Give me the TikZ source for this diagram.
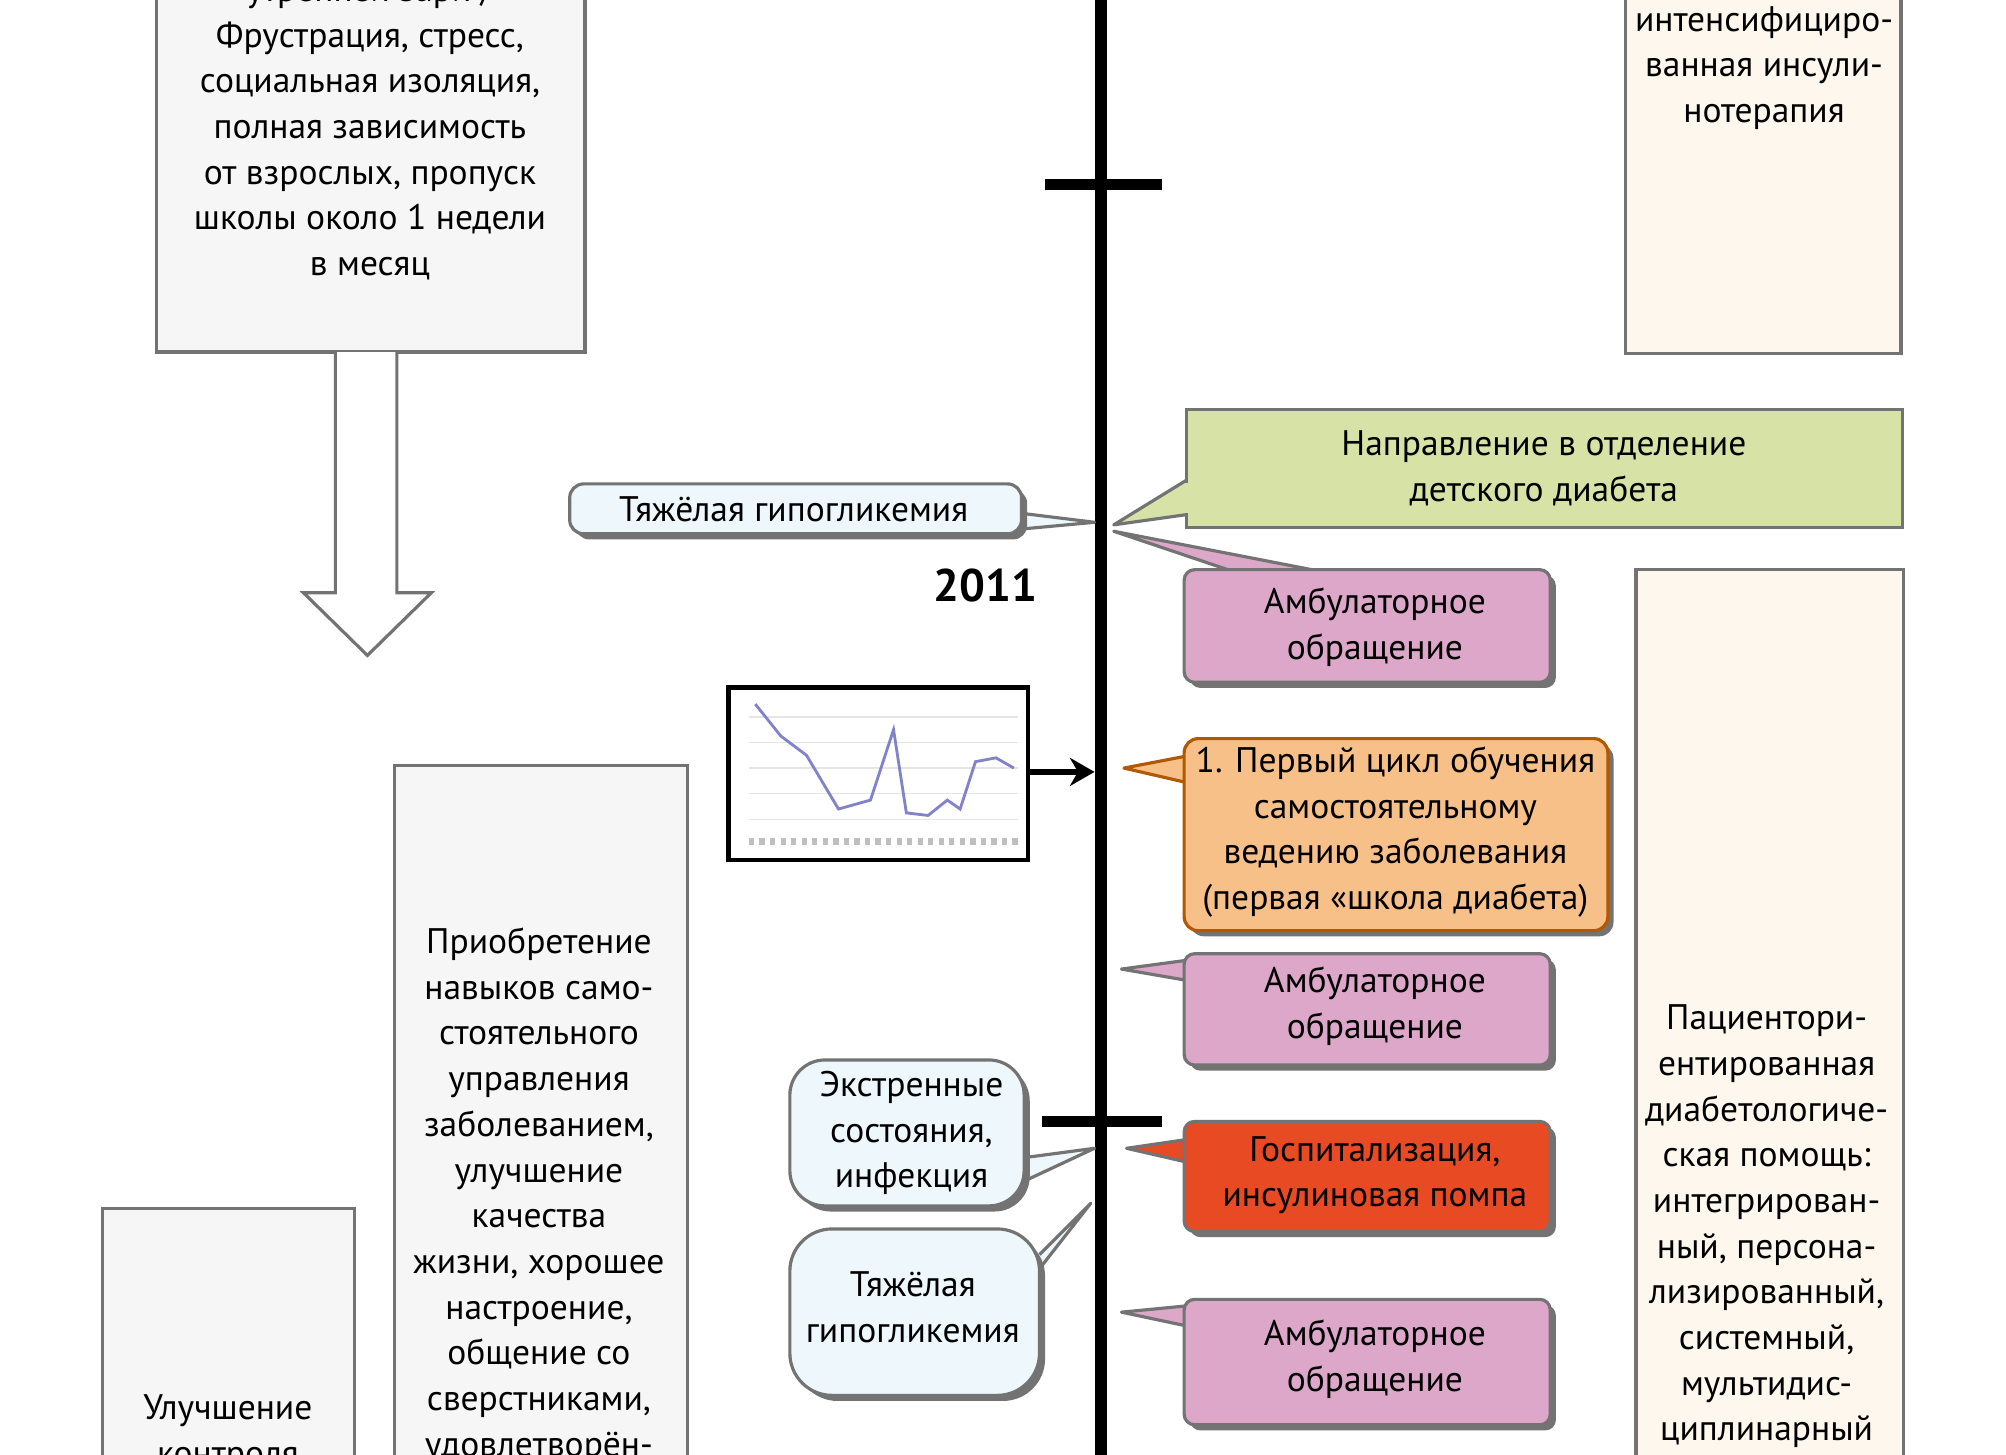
\documentclass[tikz,border=0pt]{standalone}
\usepackage{fontspec}
\setmainfont{PT Sans}
\usetikzlibrary{fit,shadows,arrows.meta}
\definecolor{gbox}{HTML}{F6F6F6}
\definecolor{cream}{HTML}{FDF7EE}
\definecolor{green1}{HTML}{D6E2A6}
\definecolor{lblue}{HTML}{EEF7FB}
\definecolor{pink1}{HTML}{DCA7C8}
\definecolor{orange1}{HTML}{F8C089}
\definecolor{red1}{HTML}{E84A24}
\tikzset{
  bx/.style={draw=black!55, line width=0.9pt, inner sep=0pt},
  sh/.style={drop shadow={shadow xshift=1.6pt,shadow yshift=-1.6pt,fill=black!55,opacity=1}},
  tx/.style={align=center, font=\fontsize{10.1}{13.0}\selectfont, inner sep=0pt},
  ptr/.style={draw=black!55, line width=0.9pt, line join=round},
}
\begin{document}
\begin{tikzpicture}[x=0.012802cm,y=-0.012802cm]
\useasboundingbox (0,0) rectangle (1567,1136);
\clip (0,0) rectangle (1567,1136);
% timeline
\coordinate (t0) at (860,-10);
\coordinate (t1) at (860,1140);
\draw[line width=3.2pt] (t0) -- (t1);
\coordinate (k1a) at (816,144); \coordinate (k1b) at (908,144);
\coordinate (k2a) at (814,876); \coordinate (k2b) at (908,876);
\draw[line width=3.2pt] (k1a) -- (k1b);
\draw[line width=3.2pt] (k2a) -- (k2b);

% top-left box
\node[bx, fill=gbox, fit={(122,-60) (457,275)}] (tl) {};
\node[tx] (tlt) at (289,100) {утренней зари /\\Фрустрация, стресс,\\социальная изоляция,\\полная зависимость\\от взрослых, пропуск\\школы около 1 недели\\в месяц};
% hollow arrow
\draw[bx, fill=white] (262,275) -- (262,463) -- (237,463) -- (287,512) -- (337,463) -- (310,463) -- (310,275);

% top-right box
\node[bx, fill=cream, fit={(1270,-60) (1485,276)}] (tr) {};
\node[tx] (trt) at (1378,53) {интенсифициро-\\ванная инсули-\\нотерапия};

% green
\draw[ptr, fill=green1] (927,375) -- (870,410) -- (927,402);
\node[bx, fill=green1, fit={(927,320) (1486,412)}] (gr) {};
\draw[green1, line width=1.5pt] (927.5,377) -- (927.5,401);
\node[tx] (grt) at (1206,366) {Направление в отделение\\детского диабета};

% light blue hypoglycemia 1
\draw[ptr, fill=lblue] (790,400) -- (855,408) -- (790,414);
\node[bx, fill=lblue, rounded corners=4pt, sh, fit={(445,378) (798,417)}] (h1) {};
\node[tx] (h1t) at (620,398) {Тяжёлая гипогликемия};

\node[font=\bfseries\fontsize{13}{15}\selectfont, inner sep=0pt] (y2011) at (770,457) {2011};

% pink 1
\draw[ptr, fill=pink1] (965,447) -- (870,415) -- (1035,447);
\node[bx, fill=pink1, rounded corners=3pt, sh, fit={(925,445) (1211,533)}] (p1) {};
\node[tx] (p1t) at (1074,490) {Амбулаторное\\обращение};

% right cream box
\node[bx, fill=cream, fit={(1278,445) (1487,1200)}] (rc) {};
\node[tx] (rct) at (1380,958) {Пациентори-\\ентированная\\диабетологиче-\\ская помощь:\\интегрирован-\\ный, персона-\\лизированный,\\системный,\\мультидис-\\циплинарный};

% chart
\node[draw=black, line width=1.2pt, fill=white, inner sep=0pt, fit={(569,537) (803,672)}] (ch) {};
\foreach \yy in {560,580,600,620,640} \draw[black!10] (585,\yy) -- (795,\yy);
\draw[black!25, line width=2pt, dash pattern=on 1.5pt off 1.5pt] (585,657) -- (795,657);
\draw[blue!40!gray!70, line width=0.8pt] (590,550) -- (610,575) -- (630,590) -- (655,632) -- (680,625) -- (698,570) -- (708,635) -- (725,637) -- (740,625) -- (750,632) -- (762,595) -- (778,592) -- (792,600);
\coordinate (chr) at (803,603);
\coordinate (tla) at (855,603);
\draw[line width=1.6pt, -{Stealth[length=7pt,width=8pt]}] (chr) -- (tla);

% orange
\draw[ptr, draw=orange!70!black, fill=orange1] (930,590) -- (878,600) -- (930,612);
\node[bx, draw=orange!70!black, fill=orange1, rounded corners=4pt, sh, fit={(925,577) (1256,727)}] (or) {};
\node[tx] (ort) at (1090,650) {1. Первый цикл обучения\\самостоятельному\\ведению заболевания\\(первая «школа диабета)};

% pink 2
\draw[ptr, fill=pink1] (928,750) -- (876,757) -- (928,766);
\node[bx, fill=pink1, rounded corners=3pt, sh, fit={(925,745) (1211,832)}] (p2) {};
\node[tx] (p2t) at (1074,786) {Амбулаторное\\обращение};

% emergency
\draw[ptr, fill=lblue] (795,905) -- (855,897) -- (795,925);
\node[bx, fill=lblue, rounded corners=10pt, sh, fit={(617,828) (800,942)}] (em) {};
\node[tx] (emt) at (712,885) {Экстренные\\состояния,\\инфекция};

% red
\draw[ptr, fill=red1] (928,890) -- (880,897) -- (928,908);
\node[bx, fill=red1, rounded corners=3pt, sh, fit={(925,876) (1211,962)}] (rd) {};
\node[tx] (rdt) at (1074,918) {Госпитализация,\\инсулиновая помпа};

% hypoglycemia 2
\draw[ptr, fill=lblue] (805,1000) -- (852,940) -- (812,980);
\node[bx, fill=lblue, rounded corners=12pt, sh, fit={(617,960) (812,1090)}] (h2) {};
\node[tx] (h2t) at (713,1021) {Тяжёлая\\гипогликемия};

% pink 3
\draw[ptr, fill=pink1] (928,1020) -- (876,1025) -- (928,1036);
\node[bx, fill=pink1, rounded corners=3pt, sh, fit={(925,1015) (1211,1113)}] (p3) {};
\node[tx] (p3t) at (1074,1062) {Амбулаторное\\обращение};

% middle gray
\node[bx, fill=gbox, fit={(308,598) (537,1200)}] (mg) {};
\node[tx] (mgt) at (421,934) {Приобретение\\навыков само-\\стоятельного\\управления\\заболеванием,\\улучшение\\качества\\жизни, хорошее\\настроение,\\общение со\\сверстниками,\\удовлетворён-};

% left gray
\node[bx, fill=gbox, fit={(80,944) (277,1200)}] (lg) {};
\node[tx] (lgt) at (178,1120) {Улучшение\\контроля};
\end{tikzpicture}
\end{document}
